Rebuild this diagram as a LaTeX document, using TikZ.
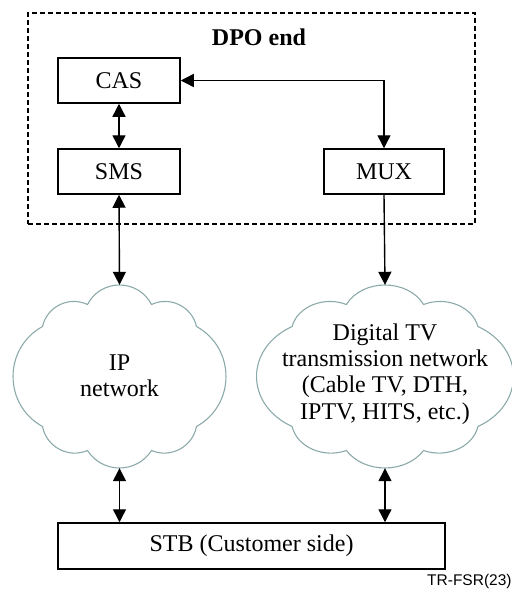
\documentclass[tikz,border=0pt]{standalone}
\usepackage{fontspec}
\setmainfont{Liberation Serif}
\usetikzlibrary{arrows.meta}
\definecolor{cloudc}{RGB}{140,170,170}
\begin{document}
\begin{tikzpicture}[x=1pt,y=-1pt,
  box/.style={draw,line width=1.5pt,inner sep=0pt,minimum height=45pt,minimum width=122pt,font=\fontsize{24}{26.4}\selectfont},
  tip/.tip={Triangle[length=13pt,width=13pt]},
  conn/.style={line width=1.4pt,tip-tip},
  conn1/.style={line width=1.4pt,-tip},
  cloudline/.style={draw=cloudc,line width=1.1pt,line join=miter},
  cloudarea/.style={inner sep=0pt,minimum height=183pt},
  txt/.style={align=center,font=\fontsize{24}{26.4}\selectfont,inner sep=0pt}]
\useasboundingbox (0,0) rectangle (512,590);
\newcommand\cloudpuffs{%
  (-32,-72) .. controls (-18.6,-98) and (18.6,-98) .. (32,-72)
  .. controls (50.5,-80.7) and (72.5,-70) .. (77,-50)
  .. controls (116.3,-28.2) and (116.3,28.2) .. (77,50)
  .. controls (73,70.5) and (51.2,82.1) .. (32,74)
  .. controls (17,97.3) and (-17,97.3) .. (-32,74)
  .. controls (-51.2,82.1) and (-73,70.5) .. (-77,50)
  .. controls (-116.3,28.2) and (-116.3,-28.2) .. (-77,-50)
  .. controls (-72.5,-70) and (-50.5,-80.7) .. cycle}
% DPO end
\node[draw,dash pattern=on 5pt off 3pt,line width=1.3pt,minimum width=447pt,minimum height=211pt,inner sep=0pt] (dpo) at (251.5,118.5) {};
\node[txt,font=\fontsize{24}{26.4}\selectfont\bfseries] (dpot) at (259,37) {DPO end};
\node[box] (cas) at (119,80.5) {CAS};
\node[box] (sms) at (119,171.5) {SMS};
\node[box,minimum width=120pt] (mux) at (384,171.5) {MUX};
% clouds
\node[cloudarea,minimum width=213pt] (ip) at (119.5,376.5) {};
\begin{scope}[shift={(ip.center)}]
  \draw[cloudline] \cloudpuffs;
\end{scope}
\node[txt] (ipt) at (119.5,376) {IP\\network};
\node[cloudarea,minimum width=257pt] (dtv) at (385,376.5) {};
\begin{scope}[shift={(dtv.center)},xscale=1.2066]
  \draw[cloudline] \cloudpuffs;
\end{scope}
\node[txt] (dtvt) at (385,374) {Digital TV\\transmission network\\(Cable TV, DTH,\\IPTV, HITS, etc.)};
% customer side
\node[box,minimum width=387pt,minimum height=46pt] (stb) at (251.5,546) {STB (Customer side)};
\node[anchor=base west,inner sep=0pt,font=\fontspec{Liberation Sans}\fontsize{15.5}{16}\selectfont] (tr) at (427,585) {TR-FSR(23)};
% connectors
\draw[conn] (cas.east) -| (mux.north);
\draw[conn] (cas.south) -- (sms.north);
\draw[conn] (sms.south) -- (ip.north);
\draw[conn1] (mux.south) -- (dtv.north);
\draw[conn] (ip.south) -- (ip.south |- stb.north);
\draw[conn] (dtv.south) -- (dtv.south |- stb.north);
\end{tikzpicture}
\end{document}
